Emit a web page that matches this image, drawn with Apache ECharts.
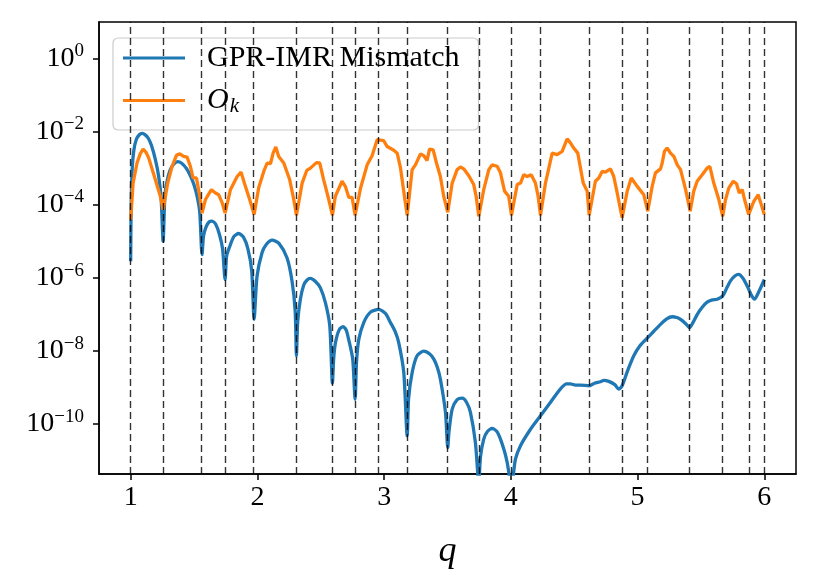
<!DOCTYPE html>
<html>
<head>
<meta charset="utf-8">
<title>GPR-IMR Mismatch vs q</title>
<script src="https://cdn.jsdelivr.net/npm/echarts@6.0.0/dist/echarts.min.js"></script>
<style>
  html, body { margin: 0; padding: 0; background: #fff; }
  #chart { width: 819px; height: 575px; }
</style>
</head>
<body>
<div id="chart"></div>
<script>
// q values of the dashed vertical markers
const markerQ = [1.0, 1.256, 1.563, 1.745, 1.974, 2.308, 2.592, 2.771, 2.95, 3.182, 3.502,
  3.747, 4.005, 4.234, 4.618, 4.878, 5.08, 5.414, 5.672, 5.877, 6.0];

// GPR-IMR mismatch, stored as log10 of the value
const mismatchQ = [1.0, 1.004, 1.012, 1.025, 1.045, 1.07, 1.09, 1.115, 1.14, 1.165, 1.195, 1.22, 1.24, 1.256,
  1.27, 1.287, 1.31, 1.34, 1.371, 1.40, 1.44, 1.471, 1.50, 1.524, 1.545, 1.563,
  1.575, 1.595, 1.62, 1.642, 1.67, 1.70, 1.725, 1.745,
  1.757, 1.78, 1.815, 1.852, 1.89, 1.925, 1.955, 1.974,
  1.997, 2.037, 2.07, 2.116, 2.17, 2.234, 2.274, 2.298, 2.308,
  2.318, 2.339, 2.365, 2.39, 2.418, 2.46, 2.497, 2.537, 2.571, 2.592,
  2.602, 2.616, 2.645, 2.676, 2.70, 2.72, 2.752, 2.771,
  2.782, 2.80, 2.839, 2.89, 2.957, 3.01, 3.05, 3.085, 3.115, 3.155, 3.182,
  3.193, 3.221, 3.26, 3.313, 3.36, 3.392, 3.42, 3.444, 3.484, 3.502,
  3.512, 3.537, 3.576, 3.616, 3.65, 3.681, 3.72, 3.747,
  3.76, 3.786, 3.815, 3.852, 3.89, 3.918, 3.95, 3.971, 4.005,
  4.036, 4.076, 4.155, 4.234, 4.313, 4.39, 4.44, 4.47, 4.51, 4.549, 4.618, 4.66, 4.707, 4.733, 4.773,
  4.82, 4.852, 4.878, 4.92, 4.97, 5.02, 5.08, 5.13, 5.181, 5.23, 5.273, 5.31, 5.339, 5.38, 5.41,
  5.44, 5.47, 5.51, 5.549, 5.59, 5.628, 5.672, 5.7, 5.733, 5.765, 5.798, 5.83, 5.865, 5.895, 5.922,
  5.96, 6.0];
const mismatchExp = [-5.54, -3.9, -3.0, -2.5, -2.2, -2.07, -2.04, -2.08, -2.18, -2.38, -2.76, -3.2, -3.8, -4.99,
  -3.75, -3.35, -3.05, -2.88, -2.81, -2.85, -3.0, -3.2, -3.45, -3.76, -4.2, -5.36,
  -4.85, -4.6, -4.46, -4.44, -4.52, -4.8, -5.2, -6.04,
  -5.4, -5.15, -4.86, -4.78, -4.88, -5.2, -5.8, -7.13,
  -5.95, -5.3, -5.08, -4.96, -5.05, -5.45, -6.1, -6.9, -8.13,
  -7.2, -6.58, -6.2, -6.06, -6.01, -6.1, -6.27, -6.68, -7.31, -8.88,
  -8.2, -7.77, -7.42, -7.33, -7.42, -7.68, -8.22, -9.32,
  -8.3, -7.68, -7.22, -6.94, -6.86, -6.97, -7.22, -7.45, -7.77, -8.59, -10.32,
  -9.3, -8.59, -8.13, -8.0, -8.08, -8.22, -8.45, -8.77, -9.68, -10.64,
  -10.2, -9.59, -9.33, -9.29, -9.4, -9.68, -10.5, -11.6,
  -10.9, -10.41, -10.2, -10.12, -10.2, -10.41, -10.75, -11.05, -11.7,
  -10.96, -10.59, -10.14, -9.77, -9.4, -9.04, -8.9, -8.9, -8.93, -8.93, -8.95, -8.88, -8.84, -8.8, -8.83,
  -8.92, -9.04, -8.95, -8.55, -8.13, -7.85, -7.63, -7.45, -7.27, -7.12, -7.06, -7.08, -7.13, -7.25, -7.36,
  -7.2, -7.0, -6.8, -6.66, -6.6, -6.58, -6.49, -6.3, -6.08, -5.95, -5.9, -6.0, -6.22, -6.45, -6.58,
  -6.35, -6.04];

// O_k, stored as log10 of the value
const okQ = [1.0, 1.019, 1.05, 1.075, 1.098, 1.12, 1.142, 1.195, 1.234, 1.256,
  1.292, 1.327, 1.361, 1.387, 1.418, 1.445, 1.471, 1.492, 1.519, 1.545, 1.563,
  1.59, 1.637, 1.669, 1.695, 1.722, 1.745,
  1.787, 1.84, 1.871, 1.897, 1.939, 1.974,
  2.01, 2.05, 2.077, 2.103, 2.124, 2.145, 2.168, 2.208, 2.255, 2.287, 2.308,
  2.353, 2.39, 2.418, 2.466, 2.492, 2.523, 2.563, 2.592,
  2.615, 2.668, 2.694, 2.721, 2.747, 2.771,
  2.813, 2.866, 2.905, 2.945, 2.96, 2.997, 3.024, 3.076, 3.103, 3.129, 3.16, 3.182,
  3.221, 3.247, 3.287, 3.313, 3.339, 3.358, 3.387, 3.413, 3.444, 3.47, 3.502,
  3.537, 3.576, 3.602, 3.628, 3.668, 3.707, 3.726, 3.747,
  3.786, 3.826, 3.852, 3.892, 3.918, 3.95, 3.983, 4.005,
  4.05, 4.076, 4.102, 4.129, 4.16, 4.194, 4.215, 4.234,
  4.273, 4.326, 4.365, 4.405, 4.444, 4.47, 4.496, 4.528, 4.571, 4.602, 4.618,
  4.667, 4.694, 4.72, 4.746, 4.786, 4.812, 4.839, 4.878,
  4.918, 4.95, 4.997, 5.049, 5.062, 5.08,
  5.115, 5.141, 5.181, 5.194, 5.212, 5.233, 5.26, 5.286, 5.313, 5.339, 5.379, 5.415,
  5.443, 5.47, 5.51, 5.549, 5.57, 5.601, 5.641, 5.672,
  5.694, 5.72, 5.755, 5.781, 5.802, 5.826, 5.844, 5.877,
  5.917, 5.952, 5.976, 6.0];
const okExp = [-4.40, -3.40, -2.85, -2.6, -2.47, -2.55, -2.71, -3.31, -3.76, -4.13,
  -3.40, -2.94, -2.64, -2.6, -2.67, -2.69, -2.94, -3.26, -3.26, -3.76, -4.22,
  -3.85, -3.58, -3.67, -3.72, -3.94, -4.22,
  -3.58, -3.22, -3.10, -3.40, -3.85, -4.26,
  -3.53, -3.08, -2.85, -2.87, -2.58, -2.41, -2.67, -2.85, -3.31, -3.85, -4.28,
  -3.4, -3.05, -2.99, -2.84, -2.85, -3.31, -3.85, -4.28,
  -3.76, -3.35, -3.49, -3.79, -3.79, -4.28,
  -3.55, -2.9, -2.65, -2.21, -2.17, -2.24, -2.4, -2.5, -2.58, -2.98, -3.76, -4.28,
  -3.03, -2.9, -2.6, -2.65, -2.78, -2.47, -2.49, -2.85, -3.22, -3.76, -4.2,
  -3.40, -3.03, -2.96, -3.01, -3.20, -3.44, -3.76, -4.31,
  -3.58, -3.03, -2.90, -2.94, -3.12, -3.62, -3.76, -4.28,
  -3.44, -3.40, -3.17, -3.22, -3.17, -3.40, -3.76, -4.28,
  -3.40, -2.58, -2.62, -2.53, -2.19, -2.30, -2.44, -2.58, -3.40, -3.62, -4.28,
  -3.35, -3.26, -3.08, -3.10, -3.01, -3.22, -3.67, -4.35,
  -3.62, -3.26, -3.49, -3.72, -3.76, -4.17,
  -3.49, -3.12, -3.01, -2.85, -2.53, -2.44, -2.58, -2.67, -2.90, -3.03, -3.58, -4.17,
  -3.62, -3.35, -3.17, -2.99, -2.94, -3.40, -3.85, -4.31,
  -3.85, -3.53, -3.35, -3.42, -3.67, -3.58, -3.85, -4.26,
  -3.90, -3.72, -3.99, -4.26];

const xTicks = [1, 2, 3, 4, 5, 6];
const yTicks = [-10, -8, -6, -4, -2, 0];

const mismatchName = 'GPR-IMR Mismatch';
const okName = 'O_k';
const serif = '"Liberation Serif", "DejaVu Serif", serif';

const chart = echarts.init(document.getElementById('chart'));

const pairs = (xs, ys) => xs.map((x, i) => [x, ys[i]]);

const option = {
  animation: false,
  grid: {
    left: 99, top: 22, width: 697, height: 453,
    show: true, borderColor: '#000', borderWidth: 1.5
  },
  legend: {
    orient: 'vertical',
    left: 113, top: 38,
    data: [mismatchName, okName],
    icon: 'rect',
    itemWidth: 62, itemHeight: 3, itemGap: 11,
    padding: [5, 19, 13, 10],
    backgroundColor: 'rgba(255,255,255,0.8)',
    borderColor: '#cccccc', borderWidth: 1.2, borderRadius: 5,
    formatter: name => name === okName ? '{o|O}{k|k}' : name,
    textStyle: {
      fontFamily: serif, fontSize: 30, color: '#000', lineHeight: 30,
      padding: [0, 0, 0, 17],
      rich: {
        o: { fontFamily: serif, fontSize: 30, fontStyle: 'italic', color: '#000', lineHeight: 30 },
        k: { fontFamily: serif, fontSize: 21, fontStyle: 'italic', color: '#000', lineHeight: 30, padding: [12, 0, 0, 1] }
      }
    }
  },
  xAxis: {
    type: 'value', min: 0.75, max: 6.25,
    splitLine: { show: false },
    axisLine: { show: true, onZero: false, lineStyle: { color: '#000', width: 1.5 } },
    axisTick: { show: true, length: 6, lineStyle: { color: '#000', width: 1.5 }, customValues: xTicks },
    axisLabel: { customValues: xTicks, fontFamily: serif, fontSize: 28, color: '#000', margin: 10 },
    name: 'q', nameLocation: 'middle', nameGap: 60,
    nameTextStyle: { fontFamily: serif, fontSize: 36, fontStyle: 'italic', color: '#000' }
  },
  yAxis: {
    type: 'value', min: -11.366, max: 1.011,
    splitLine: { show: false },
    axisLine: { show: true, onZero: false, lineStyle: { color: '#000', width: 1.5 } },
    axisTick: { show: true, length: 6, lineStyle: { color: '#000', width: 1.5 }, customValues: yTicks },
    axisLabel: {
      customValues: yTicks, margin: 15,
      formatter: v => '{b|10}{e|' + (v < 0 ? '\u2212' + (-v) : v) + '}',
      rich: {
        b: { fontFamily: serif, fontSize: 28, color: '#000', lineHeight: 34 },
        e: { fontFamily: serif, fontSize: 19, color: '#000', lineHeight: 18, verticalAlign: 'top' }
      }
    }
  },
  series: [
    {
      name: mismatchName, type: 'line', data: pairs(mismatchQ, mismatchExp),
      showSymbol: false, symbol: 'none', smooth: 0.25, clip: true, z: 2,
      lineStyle: { color: '#1f77b4', width: 3.3 }, itemStyle: { color: '#1f77b4' }
    },
    {
      name: okName, type: 'line', data: pairs(okQ, okExp),
      showSymbol: false, symbol: 'none', smooth: false, clip: true, z: 2,
      lineStyle: { color: '#ff7f0e', width: 3.3 }, itemStyle: { color: '#ff7f0e' }
    },
    {
      name: 'markers', type: 'line', data: [], z: 3, silent: true,
      markLine: {
        silent: true, symbol: ['none', 'none'], animation: false,
        label: { show: false },
        lineStyle: { type: [7, 4], color: 'rgba(0,0,0,0.8)', width: 1.4 },
        emphasis: { disabled: true },
        data: markerQ.map(q => ({ xAxis: q }))
      }
    }
  ]
};

chart.setOption(option);
</script>
</body>
</html>
